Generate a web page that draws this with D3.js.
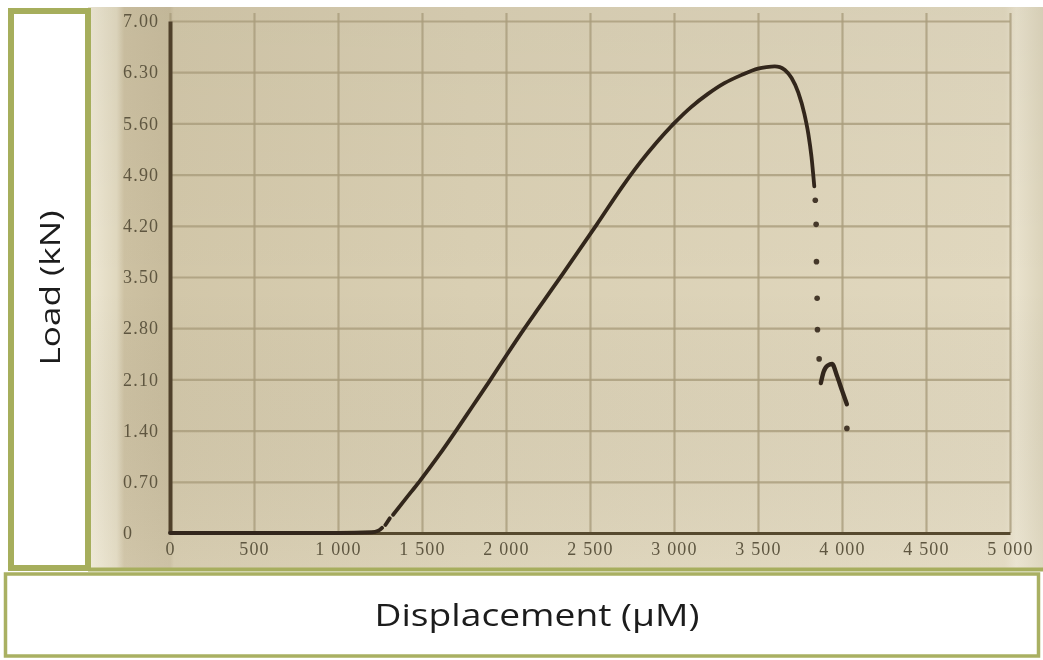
<!DOCTYPE html>
<html>
<head>
<meta charset="utf-8">
<script src="https://cdn.jsdelivr.net/npm/d3@7"></script>
<style>
    body { margin: 0; background: #fff; }
    svg { display: block; }
</style>
</head>
<body>
<script>
// values
var xTicks = [0, 500, 1000, 1500, 2000, 2500, 3000, 3500, 4000, 4500, 5000];
var yTicks = [0, 0.7, 1.4, 2.1, 2.8, 3.5, 4.2, 4.9, 5.6, 6.3, 7.0];
var yLabels = ["0", "0.70", "1.40", "2.10", "2.80", "3.50", "4.20", "4.90", "5.60", "6.30", "7.00"];

// solid trace (null = small gap in the recorded line)
var traceDisp = [0, 1000, 1200, 1240, 1262, 1270, 1282, 1308, 1316, 1328, 1400, 1490, 1600, 1706, 1800, 1900, 2000, 2108, 2230, 2340, 2541, 2700, 2800, 2900, 3000, 3100, 3200, 3300, 3400, 3500, 3550, 3600, 3630, 3660, 3700, 3740, 3776, 3800, 3818, 3835];
var traceLoad = [0, 0, 0.01, 0.03, 0.07, null, 0.11, 0.20, null, 0.25, 0.46, 0.72, 1.06, 1.41, 1.73, 2.07, 2.42, 2.79, 3.19, 3.55, 4.22, 4.76, 5.07, 5.35, 5.60, 5.82, 6.00, 6.15, 6.26, 6.35, 6.37, 6.38, 6.37, 6.33, 6.22, 6.02, 5.73, 5.45, 5.15, 4.74];

// isolated points during the load drop
var dropDisp = [3841, 3846, 3848, 3852, 3854, 3864, 4029];
var dropLoad = [4.55, 4.22, 3.71, 3.21, 2.78, 2.38, 1.43];

// second little hump
var humpDisp = [3874, 3890, 3915, 3941, 3970, 4000, 4029];
var humpLoad = [2.05, 2.20, 2.29, 2.31, 2.15, 1.95, 1.76];

var width = 1043,
    height = 660;

var svg = d3.select("body")
    .append("svg")
    .attr("width", width)
    .attr("height", height);

var defs = svg.append("defs");

var bg = defs.append("linearGradient")
    .attr("id", "photoBg")
    .attr("x1", "0").attr("x2", "1").attr("y1", "0").attr("y2", "0");
[[0, "#efe9d6"], [0.03, "#e0d8bf"], [0.038, "#cdc1a2"], [0.086, "#c8bc9d"], [0.09, "#d2c7a9"],
 [0.4, "#d9cfb3"], [0.96, "#e1d8bf"], [0.972, "#e9e2cd"], [1, "#dcd4bb"]].forEach(function(s){
    bg.append("stop").attr("offset", s[0]).attr("stop-color", s[1]);
});

var vGrad = defs.append("linearGradient")
    .attr("id", "photoShade")
    .attr("x1", "0").attr("x2", "0").attr("y1", "0").attr("y2", "1");
vGrad.append("stop").attr("offset", 0).attr("stop-color", "#000").attr("stop-opacity", 0.03);
vGrad.append("stop").attr("offset", 0.5).attr("stop-color", "#000").attr("stop-opacity", 0);
vGrad.append("stop").attr("offset", 1).attr("stop-color", "#fff").attr("stop-opacity", 0.08);

defs.append("filter")
    .attr("id", "soft")
    .append("feGaussianBlur")
    .attr("stdDeviation", 0.75);

// photographed chart area
svg.append("rect")
    .attr("x", 88).attr("y", 7)
    .attr("width", 955).attr("height", 563)
    .attr("fill", "url(#photoBg)");
svg.append("rect")
    .attr("x", 88).attr("y", 7)
    .attr("width", 955).attr("height", 563)
    .attr("fill", "url(#photoShade)");

var x = d3.scaleLinear().domain([0, 5000]).range([170, 1010]);
var y = d3.scaleLinear().domain([0, 7]).range([533, 21]);

var plot = svg.append("g").attr("filter", "url(#soft)");

// grid
plot.append("g")
    .attr("class", "grid")
    .attr("transform", "translate(0," + y(0) + ")")
    .call(d3.axisBottom(x).tickValues(xTicks).tickSize(-(y(0) - y(7) + 8)).tickFormat(""))
    .call(function(g){ g.select(".domain").remove(); });

plot.append("g")
    .attr("class", "grid")
    .attr("transform", "translate(" + x(0) + ",0)")
    .call(d3.axisLeft(y).tickValues(yTicks.slice(1)).tickSize(-(x(5000) - x(0))).tickFormat(""))
    .call(function(g){ g.select(".domain").remove(); });

plot.selectAll(".grid line")
    .attr("stroke", "#a99c7c")
    .attr("stroke-width", 2.2)
    .attr("stroke-opacity", 0.8);

// axes
var fmt = d3.formatLocale({ decimal: ".", thousands: " ", grouping: [3], currency: ["", ""] }).format(",");

var xAxis = plot.append("g")
    .attr("transform", "translate(0," + y(0) + ")")
    .call(d3.axisBottom(x).tickValues(xTicks).tickSize(0).tickPadding(9).tickFormat(fmt));

var yAxis = plot.append("g")
    .attr("transform", "translate(" + x(0) + ",0)")
    .call(d3.axisLeft(y).tickValues(yTicks).tickSize(0).tickFormat(function(d, i){ return yLabels[i]; }));

xAxis.select(".domain").attr("stroke", "#57482f").attr("stroke-width", 3);
yAxis.select(".domain").attr("stroke", "#4f412c").attr("stroke-width", 4);

[xAxis, yAxis].forEach(function(a){
    a.selectAll("text")
        .attr("fill", "#5f5741")
        .style("font-family", "'Liberation Serif', 'DejaVu Serif', serif")
        .style("font-size", "18px")
        .style("letter-spacing", "1.2px");
});
yAxis.selectAll("text")
    .attr("text-anchor", "start")
    .attr("x", -47);

// load curve
var line = d3.line()
    .defined(function(d){ return d[1] !== null; })
    .x(function(d){ return x(d[0]); })
    .y(function(d){ return y(d[1]); })
    .curve(d3.curveMonotoneX);

plot.append("path")
    .datum(traceDisp.map(function(d, i){ return [d, traceLoad[i]]; }))
    .attr("fill", "none")
    .attr("stroke", "#33271a")
    .attr("stroke-width", 3.8)
    .attr("stroke-linecap", "round")
    .attr("d", line);

plot.append("path")
    .datum(humpDisp.map(function(d, i){ return [d, humpLoad[i]]; }))
    .attr("fill", "none")
    .attr("stroke", "#33271a")
    .attr("stroke-width", 4.4)
    .attr("stroke-linecap", "round")
    .attr("d", line);

plot.selectAll(".dot")
    .data(dropDisp)
    .enter()
    .append("circle")
    .attr("class", "dot")
    .attr("cx", function(d){ return x(d); })
    .attr("cy", function(d, i){ return y(dropLoad[i]); })
    .attr("r", 2.8)
    .attr("fill", "#45382a");

// green frames and titles
svg.append("line")
    .attr("x1", 88).attr("x2", 1043)
    .attr("y1", 569.5).attr("y2", 569.5)
    .attr("stroke", "#a7ae5e")
    .attr("stroke-width", 4);

svg.append("rect")
    .attr("x", 11).attr("y", 11)
    .attr("width", 77).attr("height", 557)
    .attr("fill", "#fff")
    .attr("stroke", "#a6ae5c")
    .attr("stroke-width", 6);

svg.append("rect")
    .attr("x", 5.5).attr("y", 574)
    .attr("width", 1033).attr("height", 82)
    .attr("fill", "#fff")
    .attr("stroke", "#a9b062")
    .attr("stroke-width", 3.5);

svg.append("text")
    .attr("transform", "translate(60,288) rotate(-90)")
    .attr("text-anchor", "middle")
    .attr("textLength", 155)
    .attr("lengthAdjust", "spacingAndGlyphs")
    .attr("fill", "#1c1c1c")
    .style("font-family", "'Open Sans', 'Noto Sans', sans-serif")
    .style("font-size", "27px")
    .text("Load (kN)");

svg.append("text")
    .attr("x", 537).attr("y", 626)
    .attr("text-anchor", "middle")
    .attr("textLength", 325)
    .attr("lengthAdjust", "spacingAndGlyphs")
    .attr("fill", "#1c1c1c")
    .style("font-family", "'Open Sans', 'Noto Sans', sans-serif")
    .style("font-size", "31px")
    .text("Displacement (µM)");
</script>
</body>
</html>
